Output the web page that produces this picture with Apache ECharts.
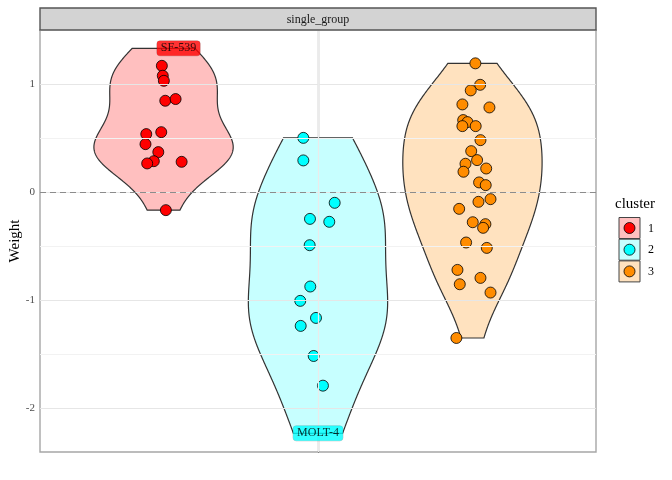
<!DOCTYPE html>
<html>
<head>
<meta charset="utf-8">
<script src="https://cdn.jsdelivr.net/npm/echarts@6/dist/echarts.min.js"></script>
<style>html,body{margin:0;padding:0;background:#fff}#c{width:672px;height:480px}</style>
</head>
<body>
<div id="c"></div>
<script>
// ---- data ----
const clusters = ['1', '2', '3'];
const clusterCenters = [-1, 0, 1];
const stripLabel = 'single_group';
const yTicks = [-2, -1, 0, 1];
const yMinor = [-1.5, -0.5, 0.5, 1.5];

// cluster 1 (first value is the labelled SF-539 point)
const weights1 = [1.336, 1.174, 1.082, 1.035, 0.850, 0.866, 0.559, 0.541, 0.448, 0.374, 0.290, 0.269, 0.284, -0.164];
const jitter1  = [0.097, -0.011, -0.005, 0.002, 0.011, 0.078, -0.015, -0.112, -0.117, -0.034, -0.063, -0.106, 0.117, 0.015];
// cluster 2 (first value is the labelled MOLT-4 point)
const weights2 = [-2.233, 0.506, 0.297, -0.096, -0.245, -0.272, -0.489, -0.872, -1.005, -1.163, -1.237, -1.516, -1.791];
const jitter2  = [0, -0.095, -0.095, 0.108, -0.052, 0.073, -0.054, -0.050, -0.115, -0.013, -0.112, -0.028, 0.032];
// cluster 3
const weights3 = [1.197, 0.998, 0.946, 0.816, 0.788, 0.671, 0.652, 0.615, 0.615, 0.485, 0.383, 0.300, 0.266, 0.222, 0.192, 0.093, 0.068, -0.062, -0.087, -0.152, -0.276, -0.294, -0.328, -0.464, -0.514, -0.718, -0.792, -0.851, -0.928, -1.349];
const jitter3  = [0.019, 0.050, -0.011, -0.065, 0.110, -0.060, -0.032, -0.065, 0.021, 0.052, -0.008, 0.030, -0.045, 0.089, -0.058, 0.043, 0.086, 0.117, 0.039, -0.086, 0.002, 0.084, 0.069, -0.041, 0.093, -0.097, 0.052, -0.082, 0.117, -0.104];

const labelNames   = ['SF-539', 'MOLT-4'];
const labelCluster = [0, 1];
const labelIndex   = [0, 0];

// ---- styles ----
const pointColors  = ['#FF0000', '#00FFFF', '#FF8C00'];
const violinFills  = ['#FFBFBF', '#C7FFFF', '#FFE2BF'];
const FONT = '"Liberation Serif", "DejaVu Serif", serif';
const HALF_WIDTH = 0.451;

const allWeights = [weights1, weights2, weights3];
const allJitter = [jitter1, jitter2, jitter3];

// ---- kernel density (like R density(), bw.nrd0, trimmed to data range) ----
function quantile7(sorted, p) {
  const h = (sorted.length - 1) * p, lo = Math.floor(h), hi = Math.ceil(h);
  return sorted[lo] + (h - lo) * (sorted[hi] - sorted[lo]);
}
function bwNrd0(x) {
  const n = x.length, m = x.reduce((a, b) => a + b, 0) / n;
  const sd = Math.sqrt(x.reduce((a, b) => a + (b - m) * (b - m), 0) / (n - 1));
  const s = x.slice().sort((a, b) => a - b);
  const iqr = quantile7(s, 0.75) - quantile7(s, 0.25);
  let lo = Math.min(sd, iqr / 1.34);
  if (!lo) lo = sd || Math.abs(x[0]) || 1;
  return 0.9 * lo * Math.pow(n, -0.2);
}
function profile(x) {
  const bw = bwNrd0(x), mn = Math.min(...x), mx = Math.max(...x), N = 256;
  const ys = [], ds = [];
  for (let i = 0; i < N; i++) {
    const y = mn + (mx - mn) * i / (N - 1);
    let d = 0;
    for (const v of x) { const z = (y - v) / bw; d += Math.exp(-0.5 * z * z); }
    ys.push(y); ds.push(d / (x.length * bw * Math.sqrt(2 * Math.PI)));
  }
  const dm = Math.max(...ds);
  return { y: ys, w: ds.map(d => d / dm * HALF_WIDTH) };
}
const profiles = allWeights.map(profile);

function isLabelled(k, i) {
  for (let t = 0; t < labelNames.length; t++) if (labelCluster[t] === k && labelIndex[t] === i) return true;
  return false;
}

// ---- series ----
const series = [];
series.push({
  type: 'line', data: [], z: 1, silent: true,
  markLine: {
    silent: true, symbol: ['none', 'none'], label: { show: false }, animation: false,
    data: [
      ...yMinor.map(v => ({ yAxis: v, lineStyle: { color: '#F2F2F2', width: 1, type: 'solid' } })),
      ...yTicks.map(v => ({ yAxis: v, lineStyle: { color: '#E6E6E6', width: 1.2, type: 'solid' } })),
      { xAxis: 0, lineStyle: { color: '#EBEBEB', width: 1.2, type: 'solid' } }
    ]
  }
});
series.push({
  type: 'custom', z: 2, silent: true,
  data: clusters.map((c, k) => [clusterCenters[k], k]),
  encode: { x: 0, y: 1 },
  renderItem: function (params, api) {
    const k = params.dataIndex, p = profiles[k], cx = clusterCenters[k], pts = [];
    for (let j = 0; j < p.y.length; j++) pts.push(api.coord([cx + p.w[j], p.y[j]]));
    for (let j = p.y.length - 1; j >= 0; j--) pts.push(api.coord([cx - p.w[j], p.y[j]]));
    return { type: 'polygon', shape: { points: pts }, style: { fill: violinFills[k], stroke: '#333', lineWidth: 1.2 } };
  }
});
series.push({
  type: 'line', data: [], z: 3, silent: true,
  markLine: {
    silent: true, symbol: ['none', 'none'], label: { show: false }, animation: false,
    data: [{ yAxis: 0, lineStyle: { color: '#8C8C8C', width: 1, type: [6, 4] } }]
  }
});
clusters.forEach((c, k) => {
  const pts = [];
  allWeights[k].forEach((w, i) => { if (!isLabelled(k, i)) pts.push([clusterCenters[k] + allJitter[k][i], w]); });
  series.push({
    type: 'scatter', name: c, z: 4, symbolSize: 11,
    itemStyle: { color: pointColors[k], borderColor: '#000', borderWidth: 0.8, opacity: 1 },
    data: pts
  });
});
series.push({
  type: 'scatter', z: 5, symbolSize: 1, itemStyle: { color: 'rgba(0,0,0,0)' },
  data: labelNames.map((nm, i) => {
    const k = labelCluster[i], j = labelIndex[i];
    return {
      value: [clusterCenters[k] + allJitter[k][j], allWeights[k][j]],
      label: {
        show: true, position: 'inside', formatter: nm, color: '#000',
        fontFamily: FONT, fontSize: 12, backgroundColor: pointColors[k],
        borderColor: 'rgba(0,0,0,0.25)', borderWidth: 0.5, borderRadius: 3, padding: [2, 4, 1, 4]
      }
    };
  })
});

// ---- legend (drawn) ----
const graphics = [
  { type: 'rect', shape: { x: 40, y: 8, width: 556, height: 22 }, style: { fill: '#D3D3D3', stroke: '#555', lineWidth: 1.4 }, z: 10 },
  { type: 'text', x: 318, y: 19.5, style: { text: stripLabel, fontFamily: FONT, fontSize: 12, fill: '#1A1A1A', align: 'center', verticalAlign: 'middle' }, z: 11 },
  { type: 'text', x: 615, y: 204, style: { text: 'cluster', fontFamily: FONT, fontSize: 15, fill: '#000', align: 'left', verticalAlign: 'middle' }, z: 11 }
];
clusters.forEach((c, k) => {
  const y0 = 217.5 + k * 21.7;
  graphics.push({ type: 'rect', shape: { x: 619, y: y0, width: 21, height: 21 }, style: { fill: violinFills[k], stroke: '#444', lineWidth: 1 }, z: 10 });
  graphics.push({ type: 'circle', shape: { cx: 629.5, cy: y0 + 10.5, r: 5.5 }, style: { fill: pointColors[k], stroke: '#000', lineWidth: 0.8 }, z: 11 });
  graphics.push({ type: 'text', x: 648, y: y0 + 11, style: { text: c, fontFamily: FONT, fontSize: 12, fill: '#000', align: 'left', verticalAlign: 'middle' }, z: 11 });
});

const chart = echarts.init(document.getElementById('c'), null, { renderer: 'canvas' });
chart.setOption({
  animation: false,
  backgroundColor: '#fff',
  grid: { left: 40, right: 76, top: 30, bottom: 28, containLabel: false, outerBoundsMode: 'none', show: true, borderColor: '#A6A6A6', borderWidth: 1.4, backgroundColor: '#fff' },
  xAxis: { type: 'value', min: -1.8, max: 1.8, axisLine: { show: false }, axisTick: { show: false }, axisLabel: { show: false }, splitLine: { show: false } },
  yAxis: {
    type: 'value', min: -2.406, max: 1.506,
    name: 'Weight', nameLocation: 'middle', nameGap: 17, nameMoveOverlap: false,
    nameTextStyle: { fontFamily: FONT, fontSize: 15, color: '#000' },
    axisLine: { show: true, lineStyle: { color: '#444', width: 1.2 } },
    axisTick: { show: true, customValues: yTicks, length: 4, lineStyle: { color: '#444' } },
    axisLabel: { customValues: yTicks, fontFamily: FONT, fontSize: 11, color: '#4D4D4D', margin: 5 },
    splitLine: { show: false }
  },
  graphic: graphics,
  series: series
});
</script>
</body>
</html>
